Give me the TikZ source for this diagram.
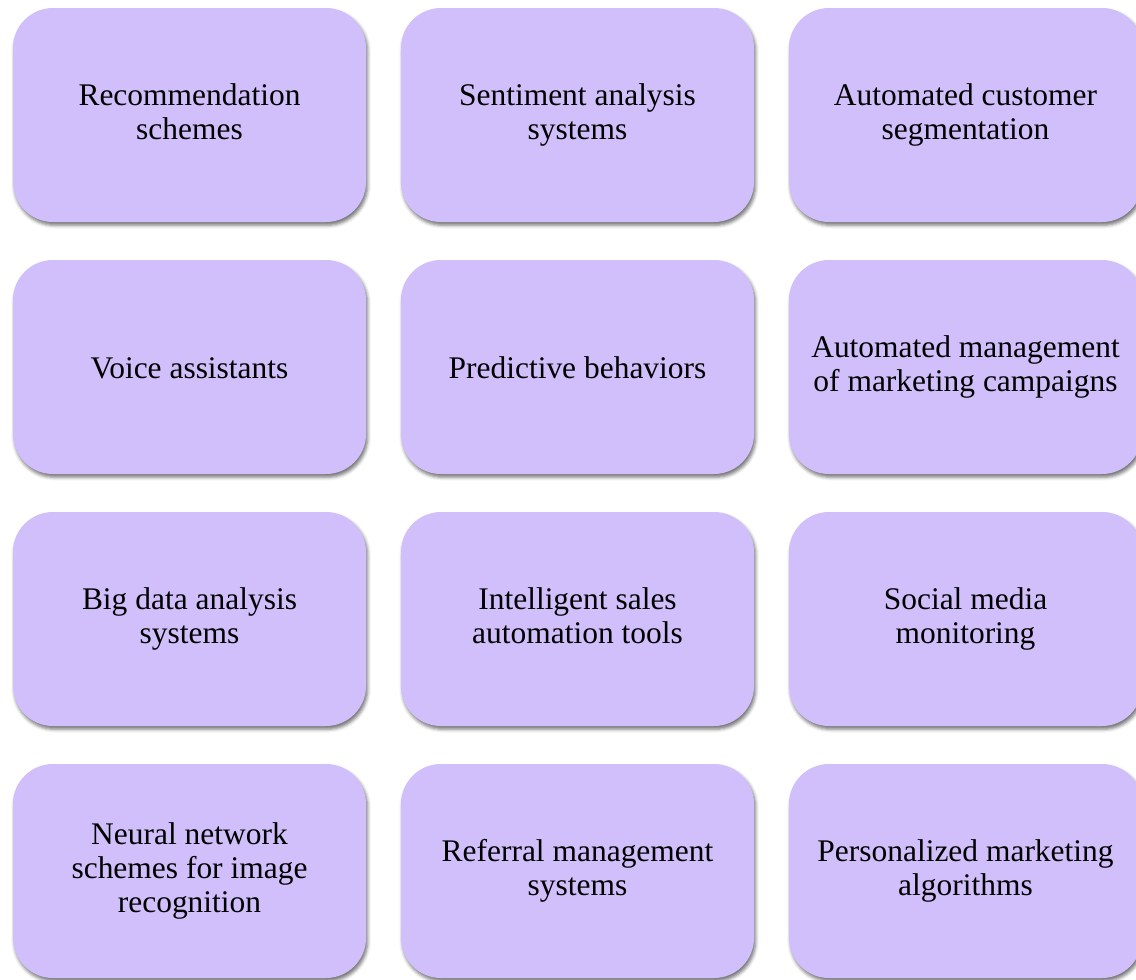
\documentclass[tikz,border=0pt]{standalone}
\usepackage{fontspec}
\setmainfont{Liberation Serif}
\usetikzlibrary{shadows.blur}
\definecolor{tilefill}{RGB}{209,191,252}
% strut that fixes the height and depth of the first and last text lines
\newcommand\tilestrut{\rule[-4.5pt]{0pt}{25.5pt}}
\begin{document}
\begin{tikzpicture}[x=0.75pt,y=-0.75pt,
  tile/.style={
    draw=none, fill=tilefill, rounded corners=30pt,
    minimum width=264.75pt, minimum height=160.5pt,
    inner sep=0pt, align=center,
    font=\fontsize{23.6}{25.5}\selectfont,
    execute at begin node=\tilestrut,
    execute at end node=\tilestrut,
    blur shadow={shadow xshift=1.2pt, shadow yshift=-2.4pt,
                 shadow blur radius=2.5pt, shadow opacity=55}}]
  \useasboundingbox (0,0) rectangle (1136,979);
  \clip (0,0) rectangle (1136,979);
  % row 1
  \node[tile] (r1c1) at (189.5,115) {Recommendation\\schemes};
  \node[tile] (r1c2) at (577.5,115) {Sentiment analysis\\systems};
  \node[tile] (r1c3) at (965.5,115) {Automated customer\\segmentation};
  % row 2
  \node[tile] (r2c1) at (189.5,367) {Voice assistants};
  \node[tile] (r2c2) at (577.5,367) {Predictive behaviors};
  \node[tile] (r2c3) at (965.5,367) {Automated management\\of marketing campaigns};
  % row 3
  \node[tile] (r3c1) at (189.5,619) {Big data analysis\\systems};
  \node[tile] (r3c2) at (577.5,619) {Intelligent sales\\automation tools};
  \node[tile] (r3c3) at (965.5,619) {Social media\\monitoring};
  % row 4
  \node[tile] (r4c1) at (189.5,871) {Neural network\\schemes for image\\recognition};
  \node[tile] (r4c2) at (577.5,871) {Referral management\\systems};
  \node[tile] (r4c3) at (965.5,871) {Personalized marketing\\algorithms};
\end{tikzpicture}
\end{document}
